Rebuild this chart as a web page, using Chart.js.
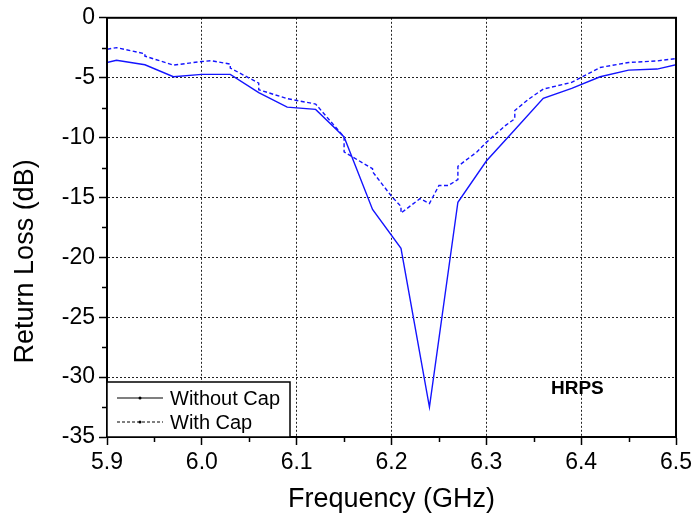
<!DOCTYPE html>
<html><head><meta charset="utf-8">
<script src="https://cdn.jsdelivr.net/npm/chart.js@4.4.0/dist/chart.umd.min.js"></script>
<style>html,body{margin:0;padding:0;background:#fff;}</style>
</head><body>
<canvas id="c" width="696" height="522"></canvas>
<script>
// ---- data ----
const seriesNames = ['Without Cap', 'With Cap'];
const freqWithout = [5.88, 5.91, 5.94, 5.97, 6.00, 6.03, 6.06, 6.09, 6.12, 6.15, 6.18, 6.21, 6.24, 6.27, 6.30, 6.33, 6.36, 6.39, 6.42, 6.45, 6.48, 6.51];
const rlWithout   = [-4.1, -3.55, -3.92, -4.92, -4.72, -4.72, -6.25, -7.46, -7.65, -9.95, -16.0, -19.25, -32.5, -15.4, -11.96, -9.35, -6.72, -5.89, -4.92, -4.37, -4.28, -3.74];
const freqWith = [5.88, 5.91, 5.94, 5.94, 5.97, 6.00, 6.01, 6.03, 6.03, 6.06, 6.06, 6.09, 6.12, 6.15, 6.15, 6.18, 6.18, 6.20, 6.21, 6.21, 6.23, 6.24, 6.25, 6.26, 6.27, 6.27, 6.29, 6.30, 6.32, 6.33, 6.33, 6.345, 6.36, 6.39, 6.42, 6.45, 6.48, 6.51];
const rlWith   = [-2.9, -2.49, -3.0, -3.2, -3.95, -3.65, -3.58, -3.87, -4.2, -5.45, -6.0, -6.75, -7.2, -9.95, -11.2, -12.6, -12.85, -14.9, -15.75, -16.3, -15.1, -15.5, -14.0, -14.0, -13.5, -12.4, -11.2, -10.4, -9.0, -8.43, -7.74, -6.77, -5.95, -5.39, -4.15, -3.73, -3.6, -3.3];
const xTicks = [5.9, 6.0, 6.1, 6.2, 6.3, 6.4, 6.5];
const xMinorTicks = [5.95, 6.05, 6.15, 6.25, 6.35, 6.45];
const yTicks = [0, -5, -10, -15, -20, -25, -30, -35];
const yMinorTicks = [-2.5, -7.5, -12.5, -17.5, -22.5, -27.5, -32.5];
const xTitle = 'Frequency (GHz)';
const yTitle = 'Return Loss (dB)';
const annotationText = 'HRPS';
const annotationAt = [6.396, -31.0];

const FONT = "'Liberation Sans', Arial, sans-serif";
const BLUE = '#1414ff';

const extras = {
  id: 'extras',
  afterDraw(chart) {
    const ctx = chart.ctx, a = chart.chartArea;
    const xs = chart.scales.x, ys = chart.scales.y;
    ctx.save();
    // frame
    ctx.strokeStyle = '#000'; ctx.lineWidth = 2; ctx.setLineDash([]);
    ctx.strokeRect(a.left, a.top, a.right - a.left, a.bottom - a.top);
    // minor ticks
    ctx.lineWidth = 1.5;
    ctx.beginPath();
    xMinorTicks.forEach(v => { const p = Math.round(xs.getPixelForValue(v)) + 0.5; ctx.moveTo(p, a.bottom); ctx.lineTo(p, a.bottom + 5); });
    yMinorTicks.forEach(v => { const p = Math.round(ys.getPixelForValue(v)) + 0.5; ctx.moveTo(a.left, p); ctx.lineTo(a.left - 5, p); });
    ctx.stroke();
    // legend
    const lx = a.left, ly = a.bottom - 55, lw = 183, lh = 55;
    ctx.fillStyle = '#fff'; ctx.fillRect(lx, ly, lw, lh);
    ctx.lineWidth = 1.5; ctx.strokeStyle = '#000'; ctx.strokeRect(lx, ly, lw, lh);
    const rows = [a.bottom - 39, a.bottom - 15];
    chart.data.datasets.forEach((ds, i) => {
      const y = rows[i];
      ctx.strokeStyle = '#000'; ctx.lineWidth = 1.2;
      ctx.setLineDash(i === 1 ? [3, 2] : []);
      ctx.beginPath(); ctx.moveTo(lx + 10, y); ctx.lineTo(lx + 56, y); ctx.stroke();
      ctx.setLineDash([]);
      ctx.fillStyle = '#000';
      ctx.beginPath(); ctx.arc(lx + 33, y, 1.5, 0, Math.PI * 2); ctx.fill();
      ctx.font = '20px ' + FONT; ctx.textBaseline = 'middle'; ctx.textAlign = 'left';
      ctx.fillText(ds.label, lx + 63, y + 1);
    });
    // annotation
    ctx.font = 'bold 19px ' + FONT; ctx.textAlign = 'center'; ctx.textBaseline = 'middle'; ctx.fillStyle = '#000';
    ctx.fillText(annotationText, xs.getPixelForValue(annotationAt[0]), ys.getPixelForValue(annotationAt[1]));
    // y title
    ctx.font = '27px ' + FONT;
    ctx.translate(26, (a.top + a.bottom) / 2 + 34);
    ctx.rotate(-Math.PI / 2);
    ctx.fillText(yTitle, 0, 0);
    ctx.restore();
  }
};

new Chart(document.getElementById('c'), {
  type: 'line',
  data: {
    datasets: [
      { label: seriesNames[0], data: freqWithout.map((f, i) => ({ x: f, y: rlWithout[i] })),
        borderColor: BLUE, borderWidth: 1.4, pointRadius: 0, tension: 0, fill: false },
      { label: seriesNames[1], data: freqWith.map((f, i) => ({ x: f, y: rlWith[i] })),
        borderColor: BLUE, borderWidth: 1.4, borderDash: [4, 2.5], pointRadius: 0, tension: 0, fill: false }
    ]
  },
  options: {
    responsive: false, animation: false, devicePixelRatio: 1,
    layout: { padding: { top: 15, right: 18, left: 0, bottom: 0 } },
    plugins: { legend: { display: false }, tooltip: { enabled: false } },
    scales: {
      x: {
        type: 'linear', min: 5.9, max: 6.5,
        afterBuildTicks: s => { s.ticks = xTicks.map(v => ({ value: v })); },
        afterFit: s => { s.height = 85; },
        ticks: { callback: v => Number(v).toFixed(1), font: { family: FONT, size: 23 }, color: '#000', padding: 4, maxRotation: 0 },
        grid: { color: '#222', lineWidth: 1, tickColor: '#000', tickLength: 8, tickWidth: 1.5 },
        border: { color: '#000', width: 2, dash: [2, 2] },
        title: { display: true, text: xTitle, font: { family: FONT, size: 27 }, color: '#000', padding: { top: 0, bottom: 6 } }
      },
      y: {
        type: 'linear', min: -35, max: 0,
        afterBuildTicks: s => { s.ticks = yTicks.map(v => ({ value: v })); },
        afterFit: s => { s.width = 107; },
        ticks: { callback: v => String(v), font: { family: FONT, size: 23 }, color: '#000', padding: 4 },
        grid: { color: '#222', lineWidth: 1, tickColor: '#000', tickLength: 8, tickWidth: 1.5 },
        border: { color: '#000', width: 2, dash: [2, 2] }
      }
    }
  },
  plugins: [extras]
});
</script>
</body></html>
